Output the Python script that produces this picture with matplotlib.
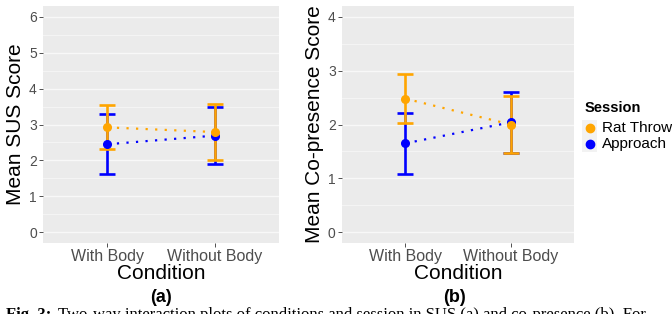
import numpy as np
import matplotlib.pyplot as plt

plt.rcParams['font.family'] = ['Liberation Sans', 'DejaVu Sans']

conditions = ['With Body', 'Without Body']
sessions = ['Rat Throw', 'Approach']
colors = {'Rat Throw': '#FFA500', 'Approach': '#0000FF'}

# (a) SUS
sus_mean = {'Rat Throw': [2.92, 2.79], 'Approach': [2.45, 2.69]}
sus_err = {'Rat Throw': [0.61, 0.79], 'Approach': [0.83, 0.80]}

# (b) co-presence
cop_mean = {'Rat Throw': [2.48, 2.00], 'Approach': [1.65, 2.04]}
cop_err = {'Rat Throw': [0.46, 0.53], 'Approach': [0.57, 0.57]}

fig = plt.figure(figsize=(6.72, 3.14), dpi=100)
ax1 = fig.add_axes([43/672, 1-243/314, 236/672, 237/314])
ax2 = fig.add_axes([342/672, 1-243/314, 232/672, 237/314])


def panel(ax, means, errs, ymax, ylabel):
    ax.set_facecolor('#EBEBEB')
    x = np.arange(1, len(conditions) + 1)
    # draw Approach first so Rat Throw sits on top
    for s in sessions[::-1]:
        c = colors[s]
        ax.plot(x, means[s], color=c, lw=1.6, dashes=(1, 3.3),
                dash_capstyle='butt', zorder=3)
        ax.errorbar(x, means[s], yerr=errs[s], fmt='none', ecolor=c,
                    elinewidth=1.9, capsize=5.5, capthick=1.9, zorder=4)
        ax.plot(x, means[s], 'o', color=c, ms=5.5, zorder=5)
    pad = ymax * 0.05
    ax.set_ylim(-pad, ymax + pad)
    ax.set_xlim(0.4, 2.6)
    ax.set_yticks(range(0, ymax + 1))
    ax.set_yticks(np.arange(0.5, ymax, 1.0), minor=True)
    ax.set_xticks(x)
    ax.set_xticklabels(conditions)
    ax.grid(True, which='major', axis='y', color='#F8F8F8', lw=1.0)
    ax.grid(True, which='minor', axis='y', color='#F5F5F5', lw=0.7)
    ax.set_axisbelow(True)
    for sp in ax.spines.values():
        sp.set_visible(False)
    ax.tick_params(axis='y', which='major', labelsize=10, colors='#333333',
                   labelcolor='#4D4D4D', length=3, width=0.6, pad=1.5)
    ax.tick_params(axis='x', which='major', labelsize=11.5, colors='#333333',
                   labelcolor='#4D4D4D', length=3, width=0.6, pad=1.5)
    ax.tick_params(which='minor', length=0)
    ax.set_ylabel(ylabel, fontsize=15, labelpad=3)
    ax.set_xlabel('Condition', fontsize=15, labelpad=0)


panel(ax1, sus_mean, sus_err, 6, 'Mean SUS Score')
panel(ax2, cop_mean, cop_err, 4, 'Mean Co-presence Score')

fig.text(161/672, 1-297/314, '(a)', ha='center', va='center',
         fontsize=13, fontweight='bold')
fig.text(455/672, 1-297/314, '(b)', ha='center', va='center',
         fontsize=13, fontweight='bold')

# legend drawn by hand to the right of panel (b)
fig.text(585/672, 1-108/314, 'Session', ha='left', va='center',
         fontsize=10.5, fontweight='bold')
for i, s in enumerate(sessions):
    yy = 1 - (128 + 16 * i) / 314
    fig.patches.append(plt.Rectangle((582/672, yy - 8/314), 15/672, 16/314,
                                     transform=fig.transFigure,
                                     facecolor='#F2F2F2', edgecolor='none'))
    fig.lines.append(plt.Line2D([589.5/672], [yy], marker='o', ms=6,
                                color=colors[s], transform=fig.transFigure))
    fig.text(602/672, yy, s, ha='left', va='center', fontsize=11)

# caption that runs off the bottom edge
fig.text(6/672, 1-319/314, 'Fig. 3:', ha='left', va='baseline', fontsize=12,
         fontweight='bold', family='Liberation Serif')
fig.text(58/672, 1-319/314,
         'Two-way interaction plots of conditions and session in SUS (a) and co-presence (b). For',
         ha='left', va='baseline', fontsize=12, family='Liberation Serif')

fig.savefig('out.png', dpi=100)
